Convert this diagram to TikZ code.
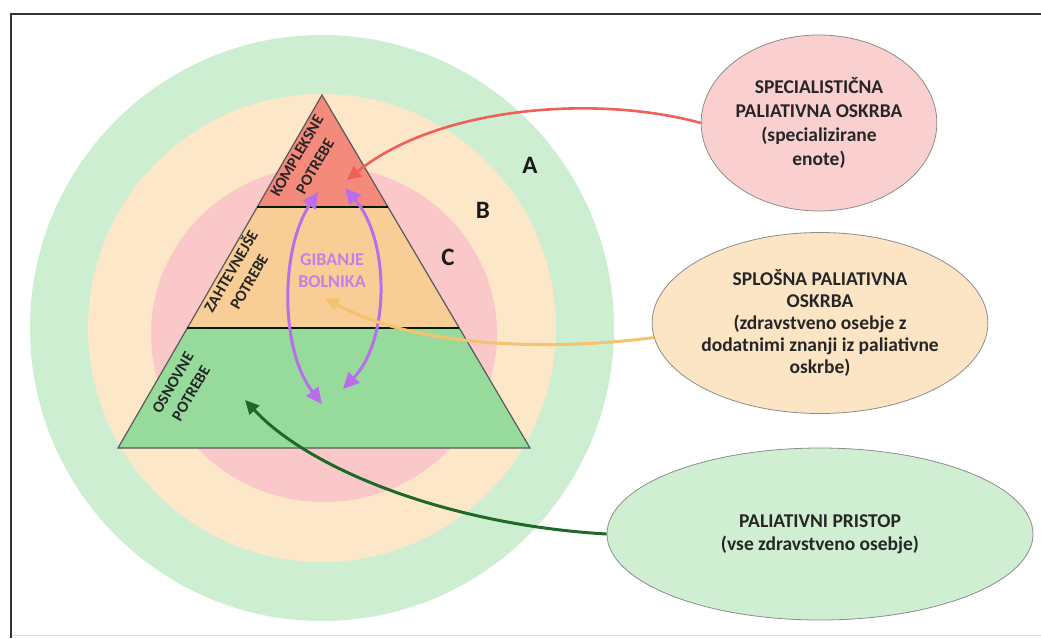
\documentclass[tikz,border=0pt]{standalone}
\usepackage{fontspec}
\setmainfont{Carlito}
\usetikzlibrary{arrows.meta,shapes.geometric}

\definecolor{ringA}{RGB}{206,238,210}
\definecolor{ringB}{RGB}{253,231,201}
\definecolor{ringC}{RGB}{250,200,200}
\definecolor{topred}{RGB}{244,138,124}
\definecolor{midorange}{RGB}{249,206,150}
\definecolor{lowgreen}{RGB}{150,219,156}
\definecolor{ovalred}{RGB}{250,207,207}
\definecolor{ovalorange}{RGB}{252,229,197}
\definecolor{ovalgreen}{RGB}{207,238,210}
\definecolor{arrred}{RGB}{238,96,88}
\definecolor{arrorange}{RGB}{245,194,110}
\definecolor{arrgreen}{RGB}{30,105,40}
\definecolor{gibcol}{RGB}{186,110,236}
\definecolor{gibtext}{RGB}{196,128,232}

\begin{document}
\begin{tikzpicture}[x=1pt,y=-1pt,
  oval/.style={ellipse,draw=black!45,line width=0.8pt,inner sep=0pt,align=center,
    text=black!85,font=\bfseries\fontsize{19.5}{24}\selectfont},
  connarrow/.style={line width=2.6pt,-{Triangle[length=14pt,width=13pt]}},
  gibarrow/.style={line width=3pt,draw=gibcol,
    {Triangle[length=16pt,width=15pt]}-{Triangle[length=16pt,width=15pt]}},
  lvl/.style={font=\bfseries\fontsize{16}{21}\selectfont,align=center,rotate=60,text=black!85},
  ringlabel/.style={font=\bfseries\fontsize{25}{25}\selectfont,text=black!90},
  divider/.style={line width=2.6pt,draw=black!70!green!40!black}]
\useasboundingbox (0,0) rectangle (1041,638);
% Frame
\draw[black!12,line width=1pt] (11,635) -- (1041,635);
\draw[black!80,line width=2.5pt] (1041,14) -- (11,14) -- (11,638);
% Rings
\fill[ringA] (322,328) ellipse [x radius=292, y radius=293];
\fill[ringB] (322,328) ellipse [x radius=234, y radius=234];
\fill[ringC] (324,334) ellipse [x radius=173, y radius=168];
\node[ringlabel] (la) at (530,165) {A};
\node[ringlabel] (lb) at (483,210) {B};
\node[ringlabel] (lc) at (448,257) {C};
% Pyramid
\fill[topred] (322,95) -- (388,207) -- (257,207) -- cycle;
\fill[midorange] (257,207) -- (388,207) -- (459,328) -- (187,328) -- cycle;
\fill[lowgreen] (187,328) -- (459,328) -- (530,448) -- (118,448) -- cycle;
\draw[black!65,line width=1.2pt] (322,95) -- (530,448) -- (118,448) -- cycle;
\draw[divider] (257,207) -- (388,207);
\draw[divider] (187,328) -- (459,328);
\node[lvl] (kompl) at (306,161) {KOMPLEKSNE\\POTREBE};
\node[lvl] (zaht) at (239,276) {ZAHTEVNEJŠE\\POTREBE};
\node[lvl] (osn) at (182,388) {OSNOVNE\\POTREBE};
% Patient movement
\node[font=\bfseries\fontsize{18}{22}\selectfont,text=gibtext,align=center] (gib) at (332,271) {GIBANJE\\BOLNIKA};
\coordinate (gl1) at (318,192);
\coordinate (gl2) at (322,404);
\coordinate (gr1) at (345,188);
\coordinate (gr2) at (343,389);
\draw[gibarrow] (gl1) .. controls (280,250) and (280,350) .. (gl2);
\draw[gibarrow] (gr1) .. controls (390,240) and (390,340) .. (gr2);
% Care levels
\node[oval,fill=ovalred,minimum width=220pt,minimum height=176pt] (spec) at (819,123)
  {SPECIALISTIČNA\\PALIATIVNA OSKRBA\\(specializirane\\enote)};
\node[oval,fill=ovalorange,minimum width=304pt,minimum height=181pt,
  font=\bfseries\fontsize{19.5}{22}\selectfont] (splosna) at (820,323)
  {SPLOŠNA PALIATIVNA\\OSKRBA\\(zdravstveno osebje z\\dodatnimi znanji iz paliativne\\oskrbe)};
\node[oval,fill=ovalgreen,minimum width=426pt,minimum height=172pt,
  font=\bfseries\fontsize{19.5}{23}\selectfont] (pristop) at (820,534)
  {PALIATIVNI PRISTOP\\(vse zdravstveno osebje)};
% Arrows to pyramid
\coordinate (ktip) at (347,180);
\coordinate (ztip) at (325,298);
\coordinate (otip) at (245,400);
\draw[connarrow,arrred] (spec.west) .. controls (600,95) and (440,105) .. (ktip);
\draw[connarrow,arrorange,line width=3pt] (splosna.185) .. controls (560,350) and (420,350) .. (ztip);
\draw[connarrow,arrgreen,line width=3pt] (pristop.west) .. controls (450,525) and (310,470) .. (otip);
\end{tikzpicture}
\end{document}
